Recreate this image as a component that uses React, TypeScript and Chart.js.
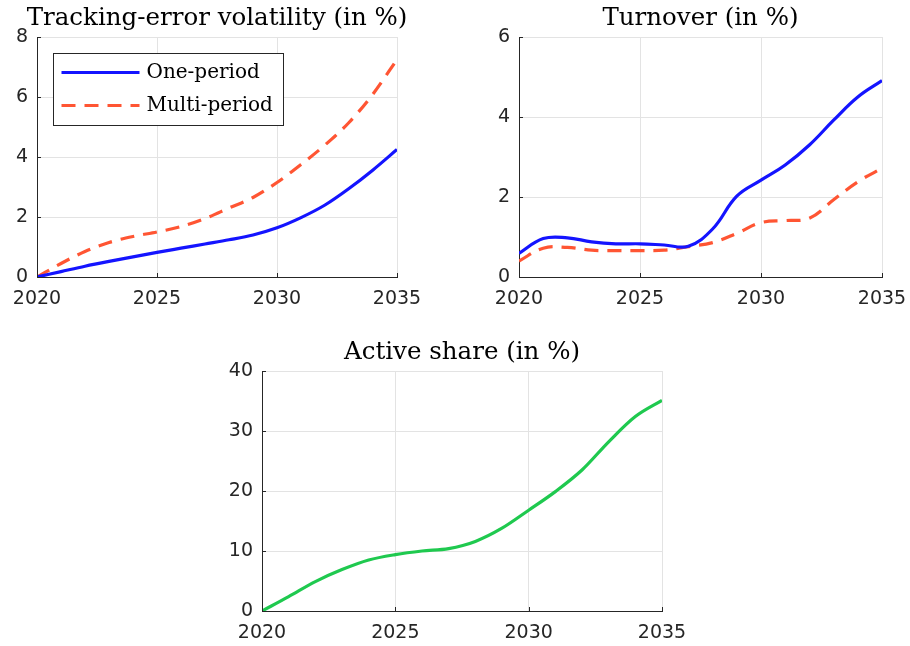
import React, { useEffect, useRef } from "react";
import { Chart, registerables } from "chart.js";

Chart.register(...registerables);

// Years on the horizontal axis
const years = [2020, 2021, 2022, 2023, 2024, 2025, 2026, 2027, 2028, 2029, 2030, 2031, 2032, 2033, 2034, 2035];

// Tracking-error volatility (in %)
const teOnePeriod = [0, 0.18, 0.36, 0.52, 0.67, 0.82, 0.96, 1.1, 1.24, 1.4, 1.64, 1.98, 2.4, 2.95, 3.57, 4.25];
const teMultiPeriod = [0, 0.45, 0.85, 1.15, 1.35, 1.5, 1.68, 1.95, 2.3, 2.65, 3.15, 3.75, 4.4, 5.15, 6.1, 7.25];

// Turnover (in %)
const toOnePeriod = [0.59, 0.96, 0.98, 0.88, 0.83, 0.83, 0.8, 0.77, 1.2, 2.02, 2.42, 2.8, 3.3, 3.92, 4.5, 4.91];
const toMultiPeriod = [0.4, 0.72, 0.74, 0.67, 0.66, 0.66, 0.67, 0.76, 0.86, 1.09, 1.36, 1.41, 1.47, 1.93, 2.38, 2.72];

// Active share (in %)
const activeShare = [0, 2.4, 4.9, 6.9, 8.5, 9.4, 10.0, 10.4, 11.6, 13.8, 16.8, 19.9, 23.5, 28.2, 32.4, 35.1];

const seriesNames = ["One-period", "Multi-period"];

const BLUE = "#1414ff";
const RED = "#ff5533";
const GREEN = "#1fc94f";
const AXIS = "#262626";
const GRID = "#e3e3e3";
const TICK_FONT = { family: "'DejaVu Sans', sans-serif", size: 19 };
const SERIF = "'DejaVu Serif', serif";
const DASH = [14, 9];

const toPoints = (vals: number[]) => vals.map((v, i) => ({ x: years[i], y: v }));

type Panel = {
  title: string;
  left: number;
  top: number;
  width: number;
  height: number;
  pad: { left: number; top: number; right: number; bottom: number };
  yAxisWidth: number;
  xAxisHeight: number;
  yMax: number;
  yStep: number;
  datasets: any[];
  legend?: boolean;
};

// Title centred over the plot area, inward ticks, and the optional boxed legend
const decorations = {
  id: "decorations",
  afterDraw(chart: any, _args: any, opts: any) {
    const { ctx, chartArea } = chart;
    ctx.save();
    ctx.fillStyle = "#000";
    ctx.font = `24.5px ${SERIF}`;
    ctx.textAlign = "center";
    ctx.textBaseline = "alphabetic";
    ctx.fillText(opts.title, (chartArea.left + chartArea.right) / 2, chartArea.top - 12);

    ctx.strokeStyle = AXIS;
    ctx.lineWidth = 1;
    const xs = chart.scales.x;
    const ys = chart.scales.y;
    ys.ticks.forEach((t: any) => {
      const py = Math.round(ys.getPixelForValue(t.value)) + 0.5;
      ctx.beginPath();
      ctx.moveTo(chartArea.left, py);
      ctx.lineTo(chartArea.left + 4, py);
      ctx.stroke();
    });
    xs.ticks.forEach((t: any) => {
      const px = Math.round(xs.getPixelForValue(t.value)) + 0.5;
      ctx.beginPath();
      ctx.moveTo(px, chartArea.bottom);
      ctx.lineTo(px, chartArea.bottom - 4);
      ctx.stroke();
    });

    if (opts.legend) {
      const bx = chartArea.left + 16.5;
      const by = chartArea.top + 16.5;
      const bw = 230;
      const bh = 72;
      ctx.fillStyle = "#fff";
      ctx.fillRect(bx, by, bw, bh);
      ctx.strokeStyle = AXIS;
      ctx.lineWidth = 1;
      ctx.strokeRect(bx, by, bw, bh);
      const rows = [
        { label: seriesNames[0], color: BLUE, dash: [] as number[] },
        { label: seriesNames[1], color: RED, dash: DASH },
      ];
      rows.forEach((r, i) => {
        const cy = by + 19 + i * 33;
        ctx.strokeStyle = r.color;
        ctx.lineWidth = 3.2;
        ctx.setLineDash(r.dash);
        ctx.beginPath();
        ctx.moveTo(bx + 8, cy);
        ctx.lineTo(bx + 86, cy);
        ctx.stroke();
        ctx.setLineDash([]);
        ctx.fillStyle = "#000";
        ctx.font = `20px ${SERIF}`;
        ctx.textAlign = "left";
        ctx.textBaseline = "middle";
        ctx.fillText(r.label, bx + 93, cy);
      });
    }
    ctx.restore();
  },
};

function PanelChart({ p }: { p: Panel }) {
  const ref = useRef<HTMLCanvasElement>(null);
  useEffect(() => {
    if (!ref.current) return;
    const chart = new Chart(ref.current, {
      type: "line",
      data: { datasets: p.datasets },
      options: {
        animation: false,
        responsive: false,
        devicePixelRatio: 1,
        layout: { padding: p.pad },
        plugins: {
          legend: { display: false },
          tooltip: { enabled: false },
          decorations: { title: p.title, legend: !!p.legend },
        } as any,
        elements: { point: { radius: 0 } },
        scales: {
          x: {
            type: "linear",
            min: 2020,
            max: 2035,
            ticks: { stepSize: 5, color: AXIS, font: TICK_FONT, padding: 11, maxRotation: 0, callback: (v: any) => String(v) },
            grid: { color: GRID, drawTicks: false, lineWidth: 1 },
            border: { color: AXIS, width: 1 },
            afterFit: (s: any) => {
              s.height = p.xAxisHeight;
              s.paddingLeft = 0;
              s.paddingRight = 0;
            },
          },
          y: {
            type: "linear",
            min: 0,
            max: p.yMax,
            ticks: { stepSize: p.yStep, color: AXIS, font: TICK_FONT, padding: 9 },
            grid: { color: GRID, drawTicks: false, lineWidth: 1 },
            border: { color: AXIS, width: 1 },
            afterFit: (s: any) => {
              s.width = p.yAxisWidth;
              s.paddingTop = 0;
              s.paddingBottom = 0;
            },
          },
        },
      },
      plugins: [decorations],
    });
    return () => chart.destroy();
  }, [p]);
  return (
    <canvas
      ref={ref}
      width={p.width}
      height={p.height}
      style={{ position: "absolute", left: p.left, top: p.top, width: p.width, height: p.height }}
    />
  );
}

const lineStyle = (color: string, dash: number[] = [], smooth = "monotone") => ({
  borderColor: color,
  backgroundColor: color,
  borderWidth: 3.2,
  borderDash: dash,
  cubicInterpolationMode: smooth,
  tension: 0.4,
  fill: false,
  pointRadius: 0,
});

const panels: Panel[] = [
  {
    title: "Tracking-error volatility (in %)",
    left: 0,
    top: 0,
    width: 455,
    height: 320,
    pad: { left: 0, top: 37, right: 58, bottom: 8 },
    yAxisWidth: 37,
    xAxisHeight: 35,
    yMax: 8,
    yStep: 2,
    legend: true,
    datasets: [
      { label: seriesNames[0], data: toPoints(teOnePeriod), ...lineStyle(BLUE) },
      { label: seriesNames[1], data: toPoints(teMultiPeriod), ...lineStyle(RED, DASH) },
    ],
  },
  {
    title: "Turnover (in %)",
    left: 455,
    top: 0,
    width: 455,
    height: 320,
    pad: { left: 24, top: 37, right: 28, bottom: 8 },
    yAxisWidth: 40,
    xAxisHeight: 35,
    yMax: 6,
    yStep: 2,
    datasets: [
      { label: seriesNames[0], data: toPoints(toOnePeriod), ...lineStyle(BLUE, [], "default") },
      { label: seriesNames[1], data: toPoints(toMultiPeriod), ...lineStyle(RED, DASH, "default") },
    ],
  },
  {
    title: "Active share (in %)",
    left: 220,
    top: 320,
    width: 470,
    height: 326,
    pad: { left: 0, top: 51, right: 28, bottom: 0 },
    yAxisWidth: 42,
    xAxisHeight: 35,
    yMax: 40,
    yStep: 10,
    datasets: [{ label: "Active share", data: toPoints(activeShare), ...lineStyle(GREEN) }],
  },
];

export default function App() {
  return (
    <div style={{ position: "absolute", left: 0, top: 0, width: 910, height: 646, background: "#fff" }}>
      {panels.map((p) => (
        <PanelChart key={p.title} p={p} />
      ))}
    </div>
  );
}
